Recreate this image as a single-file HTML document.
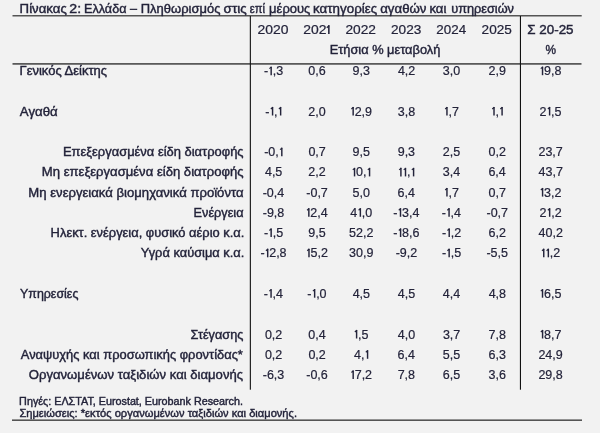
<!DOCTYPE html>
<html><head><meta charset="utf-8"><style>
html,body{margin:0;padding:0;background:#f2f2f2;}
svg{display:block;will-change:transform;}
text{font-family:"Liberation Sans",sans-serif;fill:#23233a;stroke:#23233a;stroke-width:0.4px;}
text.d{stroke-width:0.2px;}
path{stroke:#23233a;}
</style></head><body>
<svg width="600" height="433" viewBox="0 0 600 433">
<rect width="600" height="433" fill="#f2f2f2"/>
<rect x="12.5" y="15" width="569.2" height="1.5" fill="#555"/>
<rect x="12.5" y="63.1" width="569" height="1.6" fill="#4a4a4a"/>
<rect x="12" y="419.4" width="570" height="1.6" fill="#555"/>
<rect x="249.8" y="16" width="1.1" height="373.7" fill="#111"/>
<rect x="519.9" y="16" width="1.1" height="373.7" fill="#111"/>
<text x="19.62" y="12.5" font-size="12.5" textLength="47.19" lengthAdjust="spacingAndGlyphs">Πίνακας</text>
<text x="69.29" y="12.5" font-size="12.5" textLength="11.80" lengthAdjust="spacingAndGlyphs">2:</text>
<text x="83.97" y="12.5" font-size="12.5" textLength="42.49" lengthAdjust="spacingAndGlyphs">Ελλάδα</text>
<text x="129.90" y="12.5" font-size="12.5" textLength="7.01" lengthAdjust="spacingAndGlyphs">–</text>
<text x="140.74" y="12.5" font-size="12.5" textLength="79.66" lengthAdjust="spacingAndGlyphs">Πληθωρισμός</text>
<text x="223.64" y="12.5" font-size="12.5" textLength="23.03" lengthAdjust="spacingAndGlyphs">στις</text>
<text x="249.81" y="12.5" font-size="12.5" textLength="15.30" lengthAdjust="spacingAndGlyphs">επί</text>
<text x="269.12" y="12.5" font-size="12.5" textLength="41.28" lengthAdjust="spacingAndGlyphs">μέρους</text>
<text x="313.10" y="12.5" font-size="12.5" textLength="64.01" lengthAdjust="spacingAndGlyphs">κατηγορίες</text>
<text x="380.19" y="12.5" font-size="12.5" textLength="46.31" lengthAdjust="spacingAndGlyphs">αγαθών</text>
<text x="429.42" y="12.5" font-size="12.5" textLength="16.95" lengthAdjust="spacingAndGlyphs">και</text>
<text x="451.17" y="12.5" font-size="12.5" textLength="62.81" lengthAdjust="spacingAndGlyphs">υπηρεσιών</text>
<text class="d" x="257.60" y="33.9" font-size="12.5" textLength="30.94" lengthAdjust="spacingAndGlyphs">2020</text>
<text class="d" x="345.41" y="33.9" font-size="12.5" textLength="30.58" lengthAdjust="spacingAndGlyphs">2022</text>
<text class="d" x="391.02" y="33.9" font-size="12.5" textLength="30.28" lengthAdjust="spacingAndGlyphs">2023</text>
<text class="d" x="436.33" y="33.9" font-size="12.5" textLength="29.76" lengthAdjust="spacingAndGlyphs">2024</text>
<text class="d" x="481.62" y="33.9" font-size="12.5" textLength="30.26" lengthAdjust="spacingAndGlyphs">2025</text>
<text x="527.29" y="33.9" font-size="12.5" textLength="46.27" lengthAdjust="spacingAndGlyphs">Σ 20-25</text>
<text class="d" x="303.30" y="33.9" font-size="12.5" textLength="23.20" lengthAdjust="spacingAndGlyphs">202</text>
<path d="M328.85 33.9V25.30" stroke-width="1.55" fill="none"/>
<path d="M326.8 27.70L329.2 25.45" stroke-width="1.2" fill="none"/>
<text x="329.70" y="53.8" font-size="12.5" textLength="110.63" lengthAdjust="spacingAndGlyphs">Ετήσια % μεταβολή</text>
<text x="545.58" y="53.8" font-size="12.5" textLength="10.55" lengthAdjust="spacingAndGlyphs">%</text>
<text x="19.55" y="75.2" font-size="12.5" textLength="87.45" lengthAdjust="spacingAndGlyphs">Γενικός Δείκτης</text>
<path d="M271.17 75.20V66.65" stroke-width="1.45" fill="none"/>
<path d="M269.42 68.65L271.47 66.90" stroke-width="1.2" fill="none"/>
<text class="d" x="263.90 272.67 276.14" y="75.2" font-size="12.5">-,3</text>
<text class="d" x="308.34 315.29 318.77" y="75.2" font-size="12.5">0,6</text>
<text class="d" x="352.49 359.45 362.92" y="75.2" font-size="12.5">9,3</text>
<text class="d" x="397.88 404.83 408.31" y="75.2" font-size="12.5">4,2</text>
<text class="d" x="442.82 449.77 453.24" y="75.2" font-size="12.5">3,0</text>
<text class="d" x="488.49 495.45 498.92" y="75.2" font-size="12.5">2,9</text>
<path d="M542.53 75.20V66.65" stroke-width="1.45" fill="none"/>
<path d="M540.78 68.65L542.83 66.90" stroke-width="1.2" fill="none"/>
<text class="d" x="544.03 550.99 554.46" y="75.2" font-size="12.5">9,8</text>
<text x="19.87" y="115.5" font-size="12.5" textLength="37.90" lengthAdjust="spacingAndGlyphs">Αγαθά</text>
<path d="M272.57 115.50V106.95" stroke-width="1.45" fill="none"/>
<path d="M270.82 108.95L272.87 107.20" stroke-width="1.2" fill="none"/>
<path d="M280.64 115.50V106.95" stroke-width="1.45" fill="none"/>
<path d="M278.89 108.95L280.94 107.20" stroke-width="1.2" fill="none"/>
<text class="d" x="265.30 274.07" y="115.5" font-size="12.5">-,</text>
<text class="d" x="308.24 315.19 318.67" y="115.5" font-size="12.5">2,0</text>
<path d="M353.16 115.50V106.95" stroke-width="1.45" fill="none"/>
<path d="M351.41 108.95L353.46 107.20" stroke-width="1.2" fill="none"/>
<text class="d" x="354.66 361.61 365.08" y="115.5" font-size="12.5">2,9</text>
<text class="d" x="397.75 404.70 408.17" y="115.5" font-size="12.5">3,8</text>
<path d="M446.95 115.50V106.95" stroke-width="1.45" fill="none"/>
<path d="M445.20 108.95L447.25 107.20" stroke-width="1.2" fill="none"/>
<text class="d" x="448.45 451.92" y="115.5" font-size="12.5">,7</text>
<path d="M494.01 115.50V106.95" stroke-width="1.45" fill="none"/>
<path d="M492.26 108.95L494.31 107.20" stroke-width="1.2" fill="none"/>
<path d="M502.09 115.50V106.95" stroke-width="1.45" fill="none"/>
<path d="M500.34 108.95L502.39 107.20" stroke-width="1.2" fill="none"/>
<text class="d" x="495.51" y="115.5" font-size="12.5">,</text>
<path d="M549.61 115.50V106.95" stroke-width="1.45" fill="none"/>
<path d="M547.86 108.95L549.91 107.20" stroke-width="1.2" fill="none"/>
<text class="d" x="539.56 551.11 554.58" y="115.5" font-size="12.5">2,5</text>
<text x="62.94" y="156.2" font-size="12.5" textLength="180.66" lengthAdjust="spacingAndGlyphs">Επεξεργασμένα είδη διατροφής</text>
<path d="M281.82 156.20V147.65" stroke-width="1.45" fill="none"/>
<path d="M280.07 149.65L282.12 147.90" stroke-width="1.2" fill="none"/>
<text class="d" x="264.13 268.29 275.24" y="156.2" font-size="12.5">-0,</text>
<text class="d" x="308.38 315.33 318.81" y="156.2" font-size="12.5">0,7</text>
<text class="d" x="352.48 359.43 362.91" y="156.2" font-size="12.5">9,5</text>
<text class="d" x="397.69 404.65 408.12" y="156.2" font-size="12.5">9,3</text>
<text class="d" x="442.76 449.71 453.18" y="156.2" font-size="12.5">2,5</text>
<text class="d" x="488.58 495.53 499.01" y="156.2" font-size="12.5">0,2</text>
<text class="d" x="538.44 545.39 552.34 555.81" y="156.2" font-size="12.5">23,7</text>
<text x="41.83" y="176.4" font-size="12.5" textLength="201.78" lengthAdjust="spacingAndGlyphs">Μη επεξεργασμένα είδη διατροφής</text>
<text class="d" x="264.93 271.88 275.36" y="176.4" font-size="12.5">4,5</text>
<text class="d" x="308.31 315.26 318.74" y="176.4" font-size="12.5">2,2</text>
<path d="M354.54 176.40V167.85" stroke-width="1.45" fill="none"/>
<path d="M352.79 169.85L354.84 168.10" stroke-width="1.2" fill="none"/>
<path d="M369.56 176.40V167.85" stroke-width="1.45" fill="none"/>
<path d="M367.81 169.85L369.86 168.10" stroke-width="1.2" fill="none"/>
<text class="d" x="356.04 362.99" y="176.4" font-size="12.5">0,</text>
<path d="M400.91 176.40V167.85" stroke-width="1.45" fill="none"/>
<path d="M399.16 169.85L401.21 168.10" stroke-width="1.2" fill="none"/>
<path d="M405.51 176.40V167.85" stroke-width="1.45" fill="none"/>
<path d="M403.76 169.85L405.81 168.10" stroke-width="1.2" fill="none"/>
<path d="M413.59 176.40V167.85" stroke-width="1.45" fill="none"/>
<path d="M411.84 169.85L413.89 168.10" stroke-width="1.2" fill="none"/>
<text class="d" x="407.01" y="176.4" font-size="12.5">,</text>
<text class="d" x="442.76 449.71 453.18" y="176.4" font-size="12.5">3,4</text>
<text class="d" x="488.38 495.33 498.80" y="176.4" font-size="12.5">6,4</text>
<text class="d" x="538.61 545.56 552.51 555.98" y="176.4" font-size="12.5">43,7</text>
<text x="28.33" y="196.6" font-size="12.5" textLength="215.25" lengthAdjust="spacingAndGlyphs">Μη ενεργειακά βιομηχανικά προϊόντα</text>
<text class="d" x="262.64 266.80 273.75 277.22" y="196.6" font-size="12.5">-0,4</text>
<text class="d" x="306.27 310.43 317.38 320.85" y="196.6" font-size="12.5">-0,7</text>
<text class="d" x="352.51 359.46 362.93" y="196.6" font-size="12.5">5,0</text>
<text class="d" x="397.58 404.53 408.00" y="196.6" font-size="12.5">6,4</text>
<path d="M446.95 196.60V188.05" stroke-width="1.45" fill="none"/>
<path d="M445.20 190.05L447.25 188.30" stroke-width="1.2" fill="none"/>
<text class="d" x="448.45 451.92" y="196.6" font-size="12.5">,7</text>
<text class="d" x="488.58 495.53 499.01" y="196.6" font-size="12.5">0,7</text>
<path d="M542.58 196.60V188.05" stroke-width="1.45" fill="none"/>
<path d="M540.83 190.05L542.88 188.30" stroke-width="1.2" fill="none"/>
<text class="d" x="544.08 551.03 554.50" y="196.6" font-size="12.5">3,2</text>
<text x="193.56" y="216.8" font-size="12.5" textLength="50.01" lengthAdjust="spacingAndGlyphs">Ενέργεια</text>
<text class="d" x="262.72 266.89 273.84 277.31" y="216.8" font-size="12.5">-9,8</text>
<path d="M308.84 216.80V208.25" stroke-width="1.45" fill="none"/>
<path d="M307.09 210.25L309.14 208.50" stroke-width="1.2" fill="none"/>
<text class="d" x="310.34 317.30 320.77" y="216.8" font-size="12.5">2,4</text>
<path d="M360.36 216.80V208.25" stroke-width="1.45" fill="none"/>
<path d="M358.61 210.25L360.66 208.50" stroke-width="1.2" fill="none"/>
<text class="d" x="350.31 361.86 365.34" y="216.8" font-size="12.5">4,0</text>
<path d="M400.50 216.80V208.25" stroke-width="1.45" fill="none"/>
<path d="M398.75 210.25L400.80 208.50" stroke-width="1.2" fill="none"/>
<text class="d" x="393.24 402.00 408.95 412.42" y="216.8" font-size="12.5">-3,4</text>
<path d="M449.07 216.80V208.25" stroke-width="1.45" fill="none"/>
<path d="M447.32 210.25L449.37 208.50" stroke-width="1.2" fill="none"/>
<text class="d" x="441.81 450.57 454.05" y="216.8" font-size="12.5">-,4</text>
<text class="d" x="486.47 490.63 497.58 501.05" y="216.8" font-size="12.5">-0,7</text>
<path d="M549.66 216.80V208.25" stroke-width="1.45" fill="none"/>
<path d="M547.91 210.25L549.96 208.50" stroke-width="1.2" fill="none"/>
<text class="d" x="539.61 551.16 554.64" y="216.8" font-size="12.5">2,2</text>
<text x="50.64" y="237.0" font-size="12.5" textLength="193.73" lengthAdjust="spacingAndGlyphs">Ηλεκτ. ενέργεια, φυσικό αέριο κ.α.</text>
<path d="M271.15 237.00V228.45" stroke-width="1.45" fill="none"/>
<path d="M269.40 230.45L271.45 228.70" stroke-width="1.2" fill="none"/>
<text class="d" x="263.89 272.65 276.13" y="237.0" font-size="12.5">-,5</text>
<text class="d" x="308.28 315.23 318.71" y="237.0" font-size="12.5">9,5</text>
<text class="d" x="349.10 356.05 363.00 366.48" y="237.0" font-size="12.5">52,2</text>
<path d="M400.59 237.00V228.45" stroke-width="1.45" fill="none"/>
<path d="M398.84 230.45L400.89 228.70" stroke-width="1.2" fill="none"/>
<text class="d" x="393.33 402.09 409.04 412.51" y="237.0" font-size="12.5">-8,6</text>
<path d="M449.21 237.00V228.45" stroke-width="1.45" fill="none"/>
<path d="M447.46 230.45L449.51 228.70" stroke-width="1.2" fill="none"/>
<text class="d" x="441.94 450.71 454.18" y="237.0" font-size="12.5">-,2</text>
<text class="d" x="488.51 495.46 498.93" y="237.0" font-size="12.5">6,2</text>
<text class="d" x="538.61 545.56 552.51 555.98" y="237.0" font-size="12.5">40,2</text>
<text x="140.72" y="257.3" font-size="12.5" textLength="103.65" lengthAdjust="spacingAndGlyphs">Υγρά καύσιμα κ.α.</text>
<path d="M267.69 257.30V248.75" stroke-width="1.45" fill="none"/>
<path d="M265.94 250.75L267.99 249.00" stroke-width="1.2" fill="none"/>
<text class="d" x="260.42 269.19 276.14 279.61" y="257.3" font-size="12.5">-2,8</text>
<path d="M308.98 257.30V248.75" stroke-width="1.45" fill="none"/>
<path d="M307.23 250.75L309.28 249.00" stroke-width="1.2" fill="none"/>
<text class="d" x="310.48 317.43 320.90" y="257.3" font-size="12.5">5,2</text>
<text class="d" x="349.09 356.05 363.00 366.47" y="257.3" font-size="12.5">30,9</text>
<text class="d" x="395.67 399.83 406.78 410.25" y="257.3" font-size="12.5">-9,2</text>
<path d="M449.15 257.30V248.75" stroke-width="1.45" fill="none"/>
<path d="M447.40 250.75L449.45 249.00" stroke-width="1.2" fill="none"/>
<text class="d" x="441.89 450.65 454.13" y="257.3" font-size="12.5">-,5</text>
<text class="d" x="486.42 490.58 497.53 501.00" y="257.3" font-size="12.5">-5,5</text>
<path d="M543.75 257.30V248.75" stroke-width="1.45" fill="none"/>
<path d="M542.00 250.75L544.05 249.00" stroke-width="1.2" fill="none"/>
<path d="M548.35 257.30V248.75" stroke-width="1.45" fill="none"/>
<path d="M546.60 250.75L548.65 249.00" stroke-width="1.2" fill="none"/>
<text class="d" x="549.85 553.32" y="257.3" font-size="12.5">,2</text>
<text x="20.03" y="297.7" font-size="12.5" textLength="58.36" lengthAdjust="spacingAndGlyphs">Υπηρεσίες</text>
<path d="M271.07 297.70V289.15" stroke-width="1.45" fill="none"/>
<path d="M269.32 291.15L271.37 289.40" stroke-width="1.2" fill="none"/>
<text class="d" x="263.81 272.57 276.05" y="297.7" font-size="12.5">-,4</text>
<path d="M314.64 297.70V289.15" stroke-width="1.45" fill="none"/>
<path d="M312.89 291.15L314.94 289.40" stroke-width="1.2" fill="none"/>
<text class="d" x="307.37 316.14 319.61" y="297.7" font-size="12.5">-,0</text>
<text class="d" x="352.63 359.58 363.06" y="297.7" font-size="12.5">4,5</text>
<text class="d" x="397.83 404.78 408.26" y="297.7" font-size="12.5">4,5</text>
<text class="d" x="442.85 449.80 453.28" y="297.7" font-size="12.5">4,4</text>
<text class="d" x="488.64 495.59 499.06" y="297.7" font-size="12.5">4,8</text>
<path d="M542.52 297.70V289.15" stroke-width="1.45" fill="none"/>
<path d="M540.77 291.15L542.82 289.40" stroke-width="1.2" fill="none"/>
<text class="d" x="544.02 550.98 554.45" y="297.7" font-size="12.5">6,5</text>
<text x="190.64" y="338.5" font-size="12.5" textLength="52.75" lengthAdjust="spacingAndGlyphs">Στέγασης</text>
<text class="d" x="264.88 271.83 275.31" y="338.5" font-size="12.5">0,2</text>
<text class="d" x="308.25 315.20 318.68" y="338.5" font-size="12.5">0,4</text>
<path d="M356.60 338.50V329.95" stroke-width="1.45" fill="none"/>
<path d="M354.85 331.95L356.90 330.20" stroke-width="1.2" fill="none"/>
<text class="d" x="358.10 361.57" y="338.5" font-size="12.5">,5</text>
<text class="d" x="397.81 404.76 408.24" y="338.5" font-size="12.5">4,0</text>
<text class="d" x="442.89 449.84 453.31" y="338.5" font-size="12.5">3,7</text>
<text class="d" x="488.46 495.41 498.89" y="338.5" font-size="12.5">7,8</text>
<path d="M542.58 338.50V329.95" stroke-width="1.45" fill="none"/>
<path d="M540.83 331.95L542.88 330.20" stroke-width="1.2" fill="none"/>
<text class="d" x="544.08 551.03 554.50" y="338.5" font-size="12.5">8,7</text>
<text x="20.77" y="358.8" font-size="12.5" textLength="222.13" lengthAdjust="spacingAndGlyphs">Αναψυχής και προσωπικής φροντίδας*</text>
<text class="d" x="264.88 271.83 275.31" y="358.8" font-size="12.5">0,2</text>
<text class="d" x="308.38 315.33 318.81" y="358.8" font-size="12.5">0,2</text>
<path d="M367.57 358.80V350.25" stroke-width="1.45" fill="none"/>
<path d="M365.82 352.25L367.87 350.50" stroke-width="1.2" fill="none"/>
<text class="d" x="354.04 361.00" y="358.8" font-size="12.5">4,</text>
<text class="d" x="397.58 404.53 408.00" y="358.8" font-size="12.5">6,4</text>
<text class="d" x="442.82 449.78 453.25" y="358.8" font-size="12.5">5,5</text>
<text class="d" x="488.47 495.42 498.89" y="358.8" font-size="12.5">6,3</text>
<text class="d" x="538.42 545.37 552.32 555.79" y="358.8" font-size="12.5">24,9</text>
<text x="28.78" y="379.0" font-size="12.5" textLength="214.32" lengthAdjust="spacingAndGlyphs">Οργανωμένων ταξιδιών και διαμονής</text>
<text class="d" x="262.73 266.89 273.84 277.31" y="379.0" font-size="12.5">-6,3</text>
<text class="d" x="306.23 310.39 317.34 320.81" y="379.0" font-size="12.5">-0,6</text>
<path d="M353.18 379.00V370.45" stroke-width="1.45" fill="none"/>
<path d="M351.43 372.45L353.48 370.70" stroke-width="1.2" fill="none"/>
<text class="d" x="354.68 361.63 365.10" y="379.0" font-size="12.5">7,2</text>
<text class="d" x="397.66 404.61 408.09" y="379.0" font-size="12.5">7,8</text>
<text class="d" x="442.76 449.71 453.18" y="379.0" font-size="12.5">6,5</text>
<text class="d" x="488.55 495.50 498.97" y="379.0" font-size="12.5">3,6</text>
<text class="d" x="538.39 545.34 552.30 555.77" y="379.0" font-size="12.5">29,8</text>
<text x="19.13" y="404.7" font-size="10.5" textLength="223.84" lengthAdjust="spacingAndGlyphs">Πηγές: ΕΛΣΤΑΤ, Eurostat, Eurobank Research.</text>
<text x="19.41" y="416.6" font-size="10.5" textLength="277.60" lengthAdjust="spacingAndGlyphs">Σημειώσεις: *εκτός οργανωμένων ταξιδιών και διαμονής.</text>
</svg>
</body></html>
